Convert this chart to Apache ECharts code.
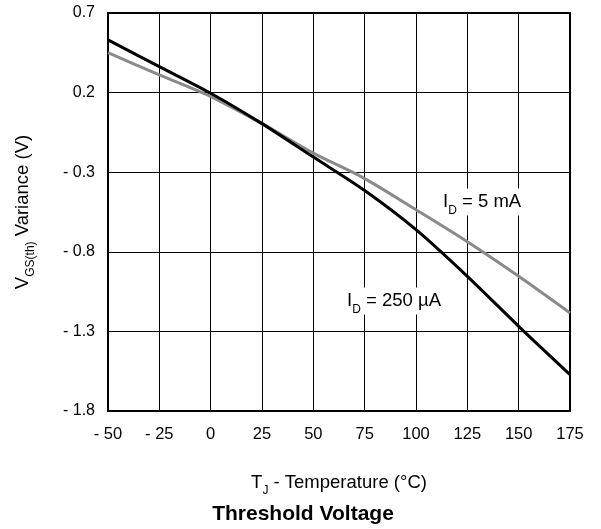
<!DOCTYPE html>
<html>
<head>
<meta charset="utf-8">
<script src="https://cdn.jsdelivr.net/npm/echarts@6/dist/echarts.min.js"></script>
<style>
html,body{margin:0;padding:0;background:#fff;}
#chart{width:601px;height:529px;}
</style>
</head>
<body>
<div id="chart"></div>
<script>
// Temperature categories (°C)
var temps = [-50, -25, 0, 25, 50, 75, 100, 125, 150, 175];
// VGS(th) variance (V), ID = 250 µA
var id250uA = [0.531, 0.363, 0.196, 0.005, -0.205, -0.415, -0.661, -0.954, -1.268, -1.571];
// VGS(th) variance (V), ID = 5 mA
var id5mA = [0.451, 0.311, 0.175, 0.005, -0.180, -0.340, -0.536, -0.737, -0.954, -1.184];
// Tick labels
var xTickValues = [-50, -25, 0, 25, 50, 75, 100, 125, 150, 175];
var xTickLabels = ['- 50', '- 25', '0', '25', '50', '75', '100', '125', '150', '175'];
var yTickValues = [-1.8, -1.3, -0.8, -0.3, 0.2, 0.7];
var yTickLabels = ['- 1.8', '- 1.3', '- 0.8', '- 0.3', '0.2', '0.7'];

function lookup(vals, labels, v) {
  for (var i = 0; i < vals.length; i++) {
    if (Math.abs(vals[i] - v) < 1e-6) return labels[i];
  }
  return '';
}
function pairs(xs, ys) {
  return xs.map(function (x, i) { return [x, ys[i]]; });
}

var FONT = 'Liberation Sans, Arial, Helvetica, sans-serif';
var chart = echarts.init(document.getElementById('chart'), null, {renderer: 'canvas'});

var labelRich = {
  m: {fontFamily: FONT, fontSize: 18.5, color: '#000'},
  s: {fontFamily: FONT, fontSize: 12, color: '#000', verticalAlign: 'bottom', padding: [0, 0, -5, 0]}
};

var option = {
  animation: false,
  backgroundColor: '#fff',
  title: {
    text: 'Threshold Voltage',
    left: 298,
    top: 499,
    textAlign: 'center',
    textStyle: {fontFamily: FONT, fontSize: 21, fontWeight: 'bold', color: '#000'}
  },
  grid: {
    left: 108, right: 31, top: 13, bottom: 118,
    show: true, borderColor: '#000', borderWidth: 2, backgroundColor: 'transparent'
  },
  xAxis: {
    type: 'value',
    min: -50, max: 175, interval: 25,
    name: '{m|T}{s|J}{m| - Temperature (°C)}',
    nameLocation: 'middle',
    nameGap: 62,
    nameTextStyle: {rich: labelRich},
    axisLine: {show: true, onZero: false, lineStyle: {color: '#000', width: 2}},
    axisTick: {show: false},
    splitLine: {show: true, lineStyle: {color: '#000', width: 1}},
    axisLabel: {
      fontFamily: FONT, fontSize: 16.5, color: '#000', margin: 15,
      formatter: function (v) { return lookup(xTickValues, xTickLabels, v); }
    }
  },
  yAxis: {
    type: 'value',
    min: -1.8, max: 0.7, interval: 0.5,
    name: '{m|V}{s|GS(th)}{m| Variance (V)}',
    nameLocation: 'middle',
    nameGap: 76,
    nameTextStyle: {rich: labelRich},
    axisLine: {show: true, onZero: false, lineStyle: {color: '#000', width: 2}},
    axisTick: {show: false},
    splitLine: {show: true, lineStyle: {color: '#000', width: 1}},
    axisLabel: {
      fontFamily: FONT, fontSize: 16, color: '#000', margin: 13,
      formatter: function (v) { return lookup(yTickValues, yTickLabels, v); }
    }
  },
  series: [
    {
      name: 'ID = 5 mA',
      type: 'line',
      data: pairs(temps, id5mA),
      smooth: 0.3,
      showSymbol: false,
      lineStyle: {color: '#8a8a8a', width: 3},
      z: 3,
      markPoint: {
        symbol: 'rect', symbolSize: 0, silent: true,
        label: {
          show: true, position: 'inside',
          backgroundColor: '#fff', padding: [4, 4, 4, 4],
          rich: labelRich
        },
        data: [
          {coord: [132.2, -0.487], label: {formatter: '{m|I}{s|D}{m| = 5 mA}'}}
        ]
      }
    },
    {
      name: 'ID = 250 µA',
      type: 'line',
      data: pairs(temps, id250uA),
      smooth: 0.3,
      showSymbol: false,
      lineStyle: {color: '#000', width: 3},
      z: 4,
      markPoint: {
        symbol: 'rect', symbolSize: 0, silent: true,
        label: {
          show: true, position: 'inside',
          backgroundColor: '#fff', padding: [4, 4, 4, 4],
          rich: labelRich
        },
        data: [
          {coord: [89.3, -1.109], label: {formatter: '{m|I}{s|D}{m| = 250 µA}'}}
        ]
      }
    }
  ]
};
chart.setOption(option);
</script>
</body>
</html>
